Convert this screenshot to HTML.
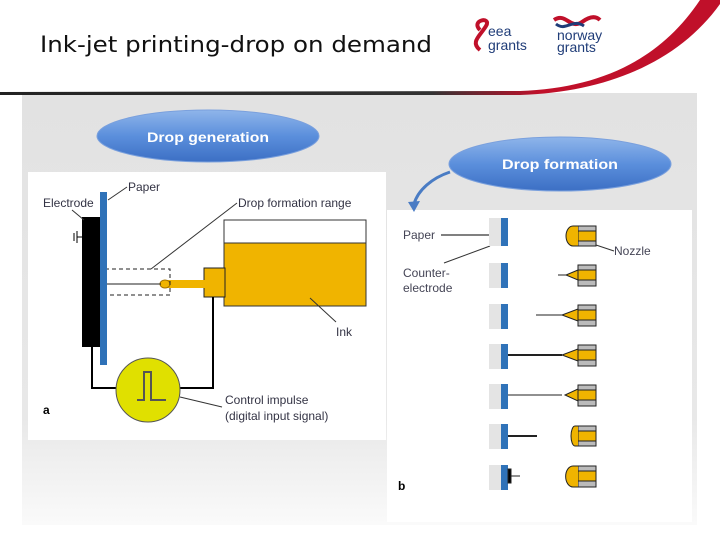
<!DOCTYPE html>
<html><head><style>
body{margin:0;width:720px;height:540px;overflow:hidden;background:#fff;font-family:"Liberation Sans",sans-serif}
</style></head><body>
<svg width="720" height="540" viewBox="0 0 720 540" xmlns="http://www.w3.org/2000/svg">
<defs>
<linearGradient id="bg" x1="0" y1="0" x2="0" y2="1"><stop offset="0" stop-color="#e2e2e2"/><stop offset="0.75" stop-color="#e8e8e8"/><stop offset="1" stop-color="#fafafa"/></linearGradient>
<linearGradient id="ov" x1="0" y1="0" x2="0" y2="1"><stop offset="0" stop-color="#8fb5ea"/><stop offset="0.5" stop-color="#5b8fdc"/><stop offset="1" stop-color="#3c6fc4"/></linearGradient>
<linearGradient id="ln" x1="0" y1="0" x2="1" y2="0"><stop offset="0" stop-color="#222"/><stop offset="0.6" stop-color="#333"/><stop offset="0.75" stop-color="#c0102a"/><stop offset="1" stop-color="#c0102a"/></linearGradient>
</defs>
<rect x="22" y="93" width="675" height="432" fill="url(#bg)"/>
<path d="M0 92 L520 91 C600 88 660 60 700 0 L720 0 L720 4 C680 60 610 92 520 95 L0 95Z" fill="url(#ln)"/>
<text x="40" y="52" font-size="22" fill="#111" font-family="DejaVu Sans,sans-serif" textLength="392" lengthAdjust="spacingAndGlyphs">Ink-jet printing-drop on demand</text>
<!-- logos -->
<path d="M480 30 C470 20 492 16 486 26 C480 36 470 42 480 50" stroke="#c0102a" stroke-width="4" fill="none"/>
<text x="488" y="36" font-size="14" fill="#1f3c78">eea</text>
<text x="488" y="50" font-size="14" fill="#1f3c78">grants</text>
<path d="M554 20 C566 12 570 30 582 22 C590 16 596 16 600 20" stroke="#c0102a" stroke-width="4" fill="none"/>
<path d="M556 24 C566 32 572 18 584 26" stroke="#1f3c78" stroke-width="3" fill="none"/>
<text x="557" y="40" font-size="14" fill="#1f3c78">norway</text>
<text x="557" y="52" font-size="14" fill="#1f3c78">grants</text>
<!-- left figure -->
<rect x="28" y="172" width="358" height="268" fill="#fff"/>
<rect x="224" y="220" width="142" height="86" fill="#f0b400" stroke="#333"/>
<rect x="224" y="220" width="142" height="23" fill="#fff" stroke="#333"/>
<rect x="204" y="268" width="21" height="29" fill="#f0b400" stroke="#222"/>
<rect x="166" y="280" width="40" height="8" fill="#f0b400"/>
<ellipse cx="165" cy="284" rx="5" ry="4" fill="#f0b400" stroke="#a07000"/>
<line x1="107" y1="284" x2="161" y2="284" stroke="#222"/>
<rect x="98" y="269" width="72" height="26" fill="none" stroke="#222" stroke-dasharray="4,3"/>
<rect x="82" y="217" width="18" height="130" fill="#000"/>
<rect x="100" y="192" width="7" height="173" fill="#2f72b8"/>
<path d="M74 233 v8 M77 237 h5 M77 231v12" stroke="#000"/>
<path d="M92 347 V388 H116 M180 388 H213 V297" stroke="#000" stroke-width="2" fill="none"/>
<circle cx="148" cy="390" r="32" fill="#e0e000" stroke="#555"/>
<path d="M137 400 H144 V372 H151 V400 H166" stroke="#555" stroke-width="2" fill="none"/>
<g font-size="12" fill="#334" font-family="Liberation Sans Narrow,Liberation Sans,sans-serif">
<text x="43" y="207">Electrode</text><text x="128" y="191">Paper</text>
<text x="238" y="207">Drop formation range</text><text x="336" y="336">Ink</text>
<text x="225" y="404">Control impulse</text><text x="225" y="420">(digital input signal)</text>
<text x="43" y="414" font-weight="bold" fill="#000">a</text></g>
<g stroke="#333"><line x1="108" y1="200" x2="127" y2="187"/><line x1="72" y1="210" x2="84" y2="220"/><line x1="151" y1="269" x2="237" y2="203"/><line x1="310" y1="298" x2="336" y2="322"/><line x1="180" y1="397" x2="222" y2="407"/></g>
<!-- right figure -->
<rect x="387" y="210" width="305" height="312" fill="#fff"/>
<g font-size="12" fill="#445" font-family="Liberation Sans Narrow,Liberation Sans,sans-serif">
<text x="403" y="239">Paper</text><text x="403" y="277">Counter-</text><text x="403" y="292">electrode</text>
<text x="614" y="255">Nozzle</text><text x="398" y="490" font-weight="bold" fill="#000">b</text></g>
<line x1="441" y1="235" x2="503" y2="235" stroke="#000"/><line x1="444" y1="263" x2="490" y2="246" stroke="#333"/><line x1="596" y1="245" x2="614" y2="251" stroke="#333"/>
<g>
<rect x="489" y="218" width="12" height="28" fill="#e4e4e4"/><rect x="501" y="218" width="7" height="28" fill="#2f72b8"/>
<rect x="489" y="263" width="12" height="25" fill="#e4e4e4"/><rect x="501" y="263" width="7" height="25" fill="#2f72b8"/>
<rect x="489" y="304" width="12" height="25" fill="#e4e4e4"/><rect x="501" y="304" width="7" height="25" fill="#2f72b8"/>
<rect x="489" y="344" width="12" height="25" fill="#e4e4e4"/><rect x="501" y="344" width="7" height="25" fill="#2f72b8"/>
<rect x="489" y="384" width="12" height="25" fill="#e4e4e4"/><rect x="501" y="384" width="7" height="25" fill="#2f72b8"/>
<rect x="489" y="424" width="12" height="25" fill="#e4e4e4"/><rect x="501" y="424" width="7" height="25" fill="#2f72b8"/>
<rect x="489" y="465" width="12" height="25" fill="#e4e4e4"/><rect x="501" y="465" width="7" height="25" fill="#2f72b8"/>
</g>
<g stroke="#222">
<g><rect x="578" y="226" width="18" height="20" fill="#bbb"/><rect x="578" y="231" width="18" height="10" fill="#f0b400"/><path d="M578 226 h-5 a7 10 0 0 0 0 20 h5" fill="#f0b400"/></g>
<g><rect x="578" y="265" width="18" height="21" fill="#bbb"/><rect x="578" y="270" width="18" height="10" fill="#f0b400"/><path d="M578 270 L566 275 L578 280Z" fill="#f0b400"/><line x1="558" y1="275" x2="566" y2="275"/></g>
<g><rect x="578" y="305" width="18" height="21" fill="#bbb"/><rect x="578" y="310" width="18" height="10" fill="#f0b400"/><path d="M578 309 L562 315 L578 321Z" fill="#f0b400"/><line x1="536" y1="315" x2="562" y2="315"/></g>
<g><rect x="578" y="345" width="18" height="21" fill="#bbb"/><rect x="578" y="350" width="18" height="10" fill="#f0b400"/><path d="M578 349 L562 355 L578 361Z" fill="#f0b400"/><line x1="508" y1="355" x2="562" y2="355" stroke-width="2"/></g>
<g><rect x="578" y="385" width="18" height="21" fill="#bbb"/><rect x="578" y="390" width="18" height="10" fill="#f0b400"/><path d="M578 389 L565 395 L578 401Z" fill="#f0b400"/><line x1="508" y1="395" x2="562" y2="395"/></g>
<g><rect x="578" y="426" width="18" height="20" fill="#bbb"/><rect x="578" y="431" width="18" height="10" fill="#f0b400"/><path d="M578 426 h-3 a4 10 0 0 0 0 20 h3" fill="#f0b400"/><line x1="508" y1="436" x2="537" y2="436" stroke-width="2"/></g>
<g><rect x="578" y="466" width="18" height="21" fill="#bbb"/><rect x="578" y="471" width="18" height="10" fill="#f0b400"/><path d="M578 466 h-5 a7 10 0 0 0 0 21 h5" fill="#f0b400"/><line x1="508" y1="476" x2="520" y2="476"/><rect x="508" y="469" width="3" height="14" fill="#000"/></g>
</g>
<!-- ovals -->
<ellipse cx="208" cy="136" rx="111" ry="26" fill="url(#ov)" stroke="#7aa0dd"/>
<text x="208" y="142" font-size="14" font-weight="bold" fill="#fff" text-anchor="middle" textLength="122" lengthAdjust="spacingAndGlyphs">Drop generation</text>
<ellipse cx="560" cy="164" rx="111" ry="27" fill="url(#ov)" stroke="#7aa0dd"/>
<text x="560" y="169" font-size="14" font-weight="bold" fill="#fff" text-anchor="middle" textLength="116" lengthAdjust="spacingAndGlyphs">Drop formation</text>
<path d="M450 172 C432 178 418 190 414 204" stroke="#4a7cc4" stroke-width="3" fill="none"/>
<path d="M408 202 L414 212 L420 201Z" fill="#4a7cc4"/>
</svg>
</body></html>
